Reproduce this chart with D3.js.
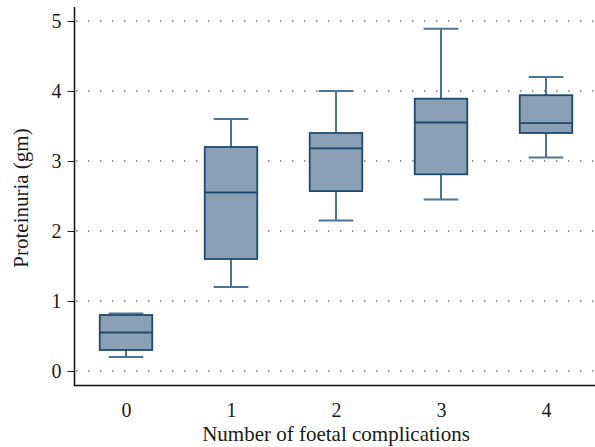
<!DOCTYPE html>
<html>
<head>
<meta charset="utf-8">
<script src="https://cdn.jsdelivr.net/npm/d3@7"></script>
<style>
    body { margin: 0; background: #fff; }
    svg text { font-family: "Liberation Serif", "DejaVu Serif", serif; fill: #1a1a1a; }
</style>
</head>
<body>
<div id="chart"></div>
<script>
// Box plot: proteinuria by number of foetal complications

const categories = ['0', '1', '2', '3', '4'];
const whiskerLow = [0.2, 1.2, 2.15, 2.45, 3.05];
const q1 = [0.3, 1.6, 2.57, 2.81, 3.4];
const medians = [0.55, 2.55, 3.18, 3.55, 3.54];
const q3 = [0.8, 3.2, 3.4, 3.89, 3.94];
const whiskerHigh = [0.82, 3.6, 4.0, 4.89, 4.2];
const yTicks = [0, 1, 2, 3, 4, 5];

const width = 595;
const height = 447;

const svg = d3.select('#chart')
    .append('svg')
    .attr('width', width)
    .attr('height', height);

const x = d3.scalePoint()
    .domain(categories)
    .range([73.5, 598.5])
    .padding(0.5);

const y = d3.scaleLinear()
    .domain([0, 5])
    .range([371, 21]);

const step = x.step();
const boxW = step * 0.5;
const capW = step * 0.33;

// Gridlines (dotted)
svg.append('g')
    .selectAll('line')
    .data(yTicks)
    .join('line')
    .attr('x1', 76)
    .attr('x2', width)
    .attr('y1', d => y(d))
    .attr('y2', d => y(d))
    .attr('stroke', '#333')
    .attr('stroke-width', 1)
    .attr('stroke-dasharray', '1.5,10.5');

// Y axis
const yAxis = svg.append('g')
    .attr('transform', 'translate(74.5,0)')
    .call(d3.axisLeft(y).tickValues(yTicks).tickSize(7).tickPadding(6).tickFormat(d3.format('d')));
yAxis.select('.domain').remove();
yAxis.selectAll('.tick line').attr('stroke', '#222');
yAxis.selectAll('.tick text').style('font-size', '20px').attr('fill', '#1a1a1a');
svg.append('line')
    .attr('x1', 74.5).attr('x2', 74.5)
    .attr('y1', 7).attr('y2', 386)
    .attr('stroke', '#111').attr('stroke-width', 1.5);

// X axis
const xAxis = svg.append('g')
    .attr('transform', 'translate(0,385.5)')
    .call(d3.axisBottom(x).tickSize(0).tickPadding(17));
xAxis.select('.domain').remove();
xAxis.selectAll('.tick text').style('font-size', '20px').attr('fill', '#1a1a1a');
svg.append('line')
    .attr('x1', 74).attr('x2', width)
    .attr('y1', 385.5).attr('y2', 385.5)
    .attr('stroke', '#111').attr('stroke-width', 1.5);

// Boxes
const boxes = svg.append('g')
    .selectAll('g')
    .data(categories.map((c, i) => ({
        c, lo: whiskerLow[i], q1: q1[i], med: medians[i], q3: q3[i], hi: whiskerHigh[i]
    })))
    .join('g');

const whiskerColor = '#4f7594';
const boxStroke = '#1f4a6e';

boxes.append('line')
    .attr('x1', d => x(d.c)).attr('x2', d => x(d.c))
    .attr('y1', d => y(d.hi)).attr('y2', d => y(d.q3))
    .attr('stroke', whiskerColor).attr('stroke-width', 2);
boxes.append('line')
    .attr('x1', d => x(d.c)).attr('x2', d => x(d.c))
    .attr('y1', d => y(d.q1)).attr('y2', d => y(d.lo))
    .attr('stroke', whiskerColor).attr('stroke-width', 2);
boxes.append('line')
    .attr('x1', d => x(d.c) - capW / 2).attr('x2', d => x(d.c) + capW / 2)
    .attr('y1', d => y(d.hi)).attr('y2', d => y(d.hi))
    .attr('stroke', whiskerColor).attr('stroke-width', 2);
boxes.append('line')
    .attr('x1', d => x(d.c) - capW / 2).attr('x2', d => x(d.c) + capW / 2)
    .attr('y1', d => y(d.lo)).attr('y2', d => y(d.lo))
    .attr('stroke', whiskerColor).attr('stroke-width', 2);

boxes.append('rect')
    .attr('x', d => x(d.c) - boxW / 2)
    .attr('width', boxW)
    .attr('y', d => y(d.q3))
    .attr('height', d => y(d.q1) - y(d.q3))
    .attr('fill', '#8ba0b4')
    .attr('stroke', boxStroke)
    .attr('stroke-width', 1.8);

boxes.append('line')
    .attr('x1', d => x(d.c) - boxW / 2).attr('x2', d => x(d.c) + boxW / 2)
    .attr('y1', d => y(d.med)).attr('y2', d => y(d.med))
    .attr('stroke', boxStroke).attr('stroke-width', 1.8);

// Axis titles
svg.append('text')
    .attr('x', 336)
    .attr('y', 441)
    .attr('text-anchor', 'middle')
    .style('font-size', '21px')
    .text('Number of foetal complications');

svg.append('text')
    .attr('transform', 'translate(28,198) rotate(-90)')
    .attr('text-anchor', 'middle')
    .style('font-size', '21px')
    .text('Proteinuria (gm)');
</script>
</body>
</html>
